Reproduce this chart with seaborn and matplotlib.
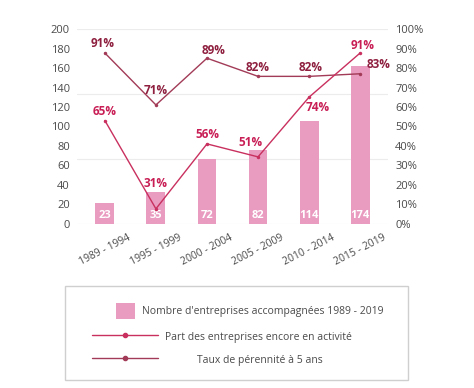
import numpy as np
import matplotlib
matplotlib.use("Agg")
import matplotlib.pyplot as plt
import seaborn as sns
from matplotlib.patches import Rectangle
from matplotlib.lines import Line2D
from matplotlib.ticker import FuncFormatter

# Données
periods = ["1989 - 1994", "1995 - 1999", "2000 - 2004", "2005 - 2009", "2010 - 2014", "2015 - 2019"]
nb_entreprises = [23, 35, 72, 82, 114, 174]
part_activite = [65, 31, 56, 51, 74, 91]      # Part des entreprises encore en activité
taux_perennite = [91, 71, 89, 82, 82, 83]     # Taux de pérennité à 5 ans

# décalages des étiquettes (pixels)
off_activite = [(0, 9), (0, 25), (0, 9), (-8, 14), (9, -10), (2, 7)]
off_perennite = [(-2, 9), (0, 14), (7, 8), (0, 9), (2, 9), (18, 9)]

bar_color = "#e99bc0"
col_activite = "#c9305f"
lab_activite = "#c81e55"
col_perennite = "#a23b57"
lab_perennite = "#8e1f3f"
grey = "#4a4a4a"

sns.set_style("white")
plt.rcParams["font.family"] = ["Open Sans", "DejaVu Sans"]

fig = plt.figure(figsize=(4.74, 3.88), dpi=100)
ax = fig.add_axes([0.162, 0.423, 0.657, 0.502])
xpos = np.arange(len(periods))

# axe gauche visible 0-200
ax.set_ylim(0, 200)
ax.set_yticks(range(0, 201, 20))
for g in [0, 200 / 3, 400 / 3, 200]:
    ax.axhline(g, color="#ececec", lw=0.8, zorder=0)
ax.tick_params(axis="both", length=0, labelsize=8, colors=grey)
ax.tick_params(axis="x", pad=6, labelsize=7.5)
ax.tick_params(axis="y", pad=5)

# axe droit visible 0-100%
ax_r = ax.twinx()
ax_r.set_ylim(0, 100)
ax_r.set_yticks(range(0, 101, 10))
ax_r.yaxis.set_major_formatter(FuncFormatter(lambda v, p: f"{int(v)}%"))
ax_r.tick_params(axis="y", length=0, labelsize=8, colors=grey, pad=5)

# barres
ax_bar = ax.twinx()
sns.barplot(x=xpos, y=nb_entreprises, ax=ax_bar, color=bar_color,
            width=0.37, saturation=1, native_scale=True, edgecolor="none")
ax_bar.set_ylim(0, 215)
for x, v in zip(xpos, nb_entreprises):
    ax_bar.text(x, 3.5, str(v), ha="center", va="bottom", color="white",
                fontsize=8, fontweight="bold")

# courbes
ax_line = ax.twinx()
sns.lineplot(x=xpos, y=taux_perennite, ax=ax_line, color=col_perennite,
             lw=1, marker="o", markersize=2.5, markeredgewidth=0)
sns.lineplot(x=xpos, y=part_activite, ax=ax_line, color=col_activite,
             lw=1, marker="o", markersize=2.5, markeredgewidth=0)
ax_line.set_ylim(25.2, 100.2)
for x, v, o in zip(xpos, taux_perennite, off_perennite):
    ax_line.annotate(f"{v}%", (x, v), xytext=o, textcoords="offset pixels",
                     ha="center", va="center", color=lab_perennite,
                     fontsize=8.5, fontweight="bold")
for x, v, o in zip(xpos, part_activite, off_activite):
    ax_line.annotate(f"{v}%", (x, v), xytext=o, textcoords="offset pixels",
                     ha="center", va="center", color=lab_activite,
                     fontsize=8.5, fontweight="bold")

ax.set_xlim(-0.55, 5.55)
ax.set_xticks(xpos)
ax.set_xticklabels(periods, rotation=27, ha="center")
for a in (ax, ax_r, ax_bar, ax_line):
    for s in a.spines.values():
        s.set_visible(False)
    a.set_ylabel("")
ax.set_xlabel("")
for a in (ax_bar, ax_line):
    a.set_yticks([])

# légende
fig.patches.append(Rectangle((0.137, 0.021), 0.724, 0.242, transform=fig.transFigure,
                             fill=False, edgecolor="#cfcfcf", lw=1))
leg_items = [
    (Rectangle((0, 0), 1, 1, color=bar_color, lw=0),
     "Nombre d'entreprises accompagnées 1989 - 2019", 116, 311, 1.83, 0.67),
    (Line2D([], [], color=col_activite, lw=1, marker="o", markersize=3),
     "Part des entreprises encore en activité", 92, 337, 6.33, 0.67),
    (Line2D([], [], color=col_perennite, lw=1, marker="o", markersize=3),
     "Taux de pérennité à 5 ans", 92, 360, 6.33, 3.75),
]
for h, lab, x0, y0, hl, tp in leg_items:
    leg = fig.legend([h], [lab], loc="center left",
                     bbox_to_anchor=(x0 / 474, 1 - y0 / 388),
                     frameon=False, fontsize=7.5, handlelength=hl, handleheight=1.92,
                     handletextpad=tp, borderpad=0, borderaxespad=0)
    for t in leg.get_texts():
        t.set_color(grey)

fig.savefig("out.png", dpi=100)
